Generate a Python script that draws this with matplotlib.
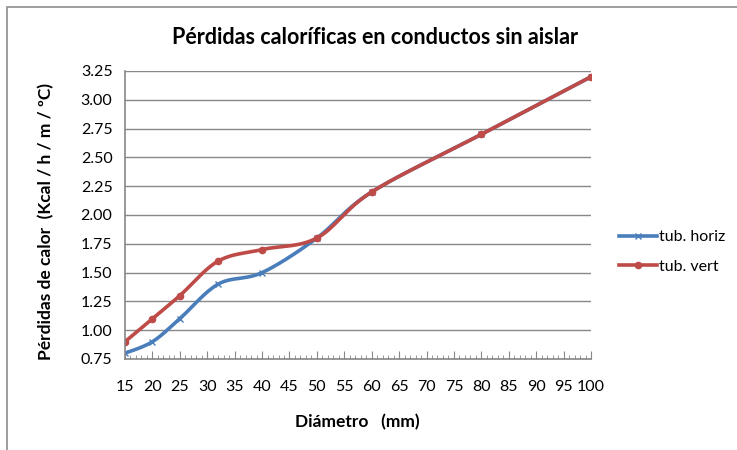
import numpy as np
import matplotlib.pyplot as plt
from matplotlib.patches import Rectangle
from matplotlib.ticker import MultipleLocator, FormatStrFormatter

diametro = [15, 20, 25, 32, 40, 50, 60, 80, 100]
tub_horiz = [0.8, 0.9, 1.1, 1.4, 1.5, 1.8, 2.2, 2.7, 3.2]
tub_vert = [0.9, 1.1, 1.3, 1.6, 1.7, 1.8, 2.2, 2.7, 3.2]

blue = "#4a7ebb"
red = "#be4b48"
font = "Lato"


def smooth(x, y, n=30):
    # Excel-style smoothed line: Catmull-Rom segments drawn as cubic Beziers
    x = np.asarray(x, float)
    y = np.asarray(y, float)
    px = np.concatenate([[x[0]], x, [x[-1]]])
    py = np.concatenate([[y[0]], y, [y[-1]]])
    xs, ys = [], []
    t = np.linspace(0, 1, n)
    for i in range(1, len(px) - 2):
        p0 = np.array([px[i], py[i]])
        p3 = np.array([px[i + 1], py[i + 1]])
        c1 = p0 + (np.array([px[i + 1], py[i + 1]]) - np.array([px[i - 1], py[i - 1]])) / 6
        c2 = p3 - (np.array([px[i + 2], py[i + 2]]) - np.array([px[i], py[i]])) / 6
        b = ((1 - t) ** 3)[:, None] * p0 + (3 * (1 - t) ** 2 * t)[:, None] * c1 \
            + (3 * (1 - t) * t ** 2)[:, None] * c2 + (t ** 3)[:, None] * p3
        xs.extend(b[:, 0])
        ys.extend(b[:, 1])
    return xs, ys


fig = plt.figure(figsize=(7.37, 4.5), dpi=100)
fig.patches.append(Rectangle((7 / 737, -0.1), 1.2, 1 - 7 / 450 + 0.1,
                             transform=fig.transFigure, fill=False,
                             edgecolor="#8c8c8c", linewidth=1.2))

ax = fig.add_axes([125 / 737, 1 - 359 / 450, 466 / 737, (359 - 71) / 450])

hx, hy = smooth(diametro, tub_horiz)
vx, vy = smooth(diametro, tub_vert)
ax.plot(hx, hy, color=blue, linewidth=2.6, solid_capstyle="round")
ax.plot(diametro, tub_horiz, linestyle="none", marker="x", color=blue, markersize=4, markeredgewidth=1)
ax.plot(vx, vy, color=red, linewidth=2.6, solid_capstyle="round")
ax.plot(diametro, tub_vert, linestyle="none", marker="o", color=red, markersize=4.5)

ax.set_xlim(15, 100)
ax.set_ylim(0.75, 3.25)
ax.xaxis.set_major_locator(MultipleLocator(5))
ax.xaxis.set_minor_locator(MultipleLocator(1))
ax.yaxis.set_major_locator(MultipleLocator(0.25))
ax.yaxis.set_major_formatter(FormatStrFormatter("%.2f"))
ax.grid(axis="y", color="#888888", linewidth=1)
ax.set_axisbelow(True)

for s in ["top", "right"]:
    ax.spines[s].set_visible(False)
for s in ["left", "bottom"]:
    ax.spines[s].set_color("#888888")
    ax.spines[s].set_linewidth(1.2)

ax.tick_params(axis="y", length=0, pad=9, labelsize=11.5, labelcolor="black")
ax.tick_params(axis="x", which="major", direction="in", length=6, color="#888888",
               pad=15, labelsize=11.5)
ax.tick_params(axis="x", which="minor", direction="in", length=3, color="#888888")
for lab in ax.get_xticklabels() + ax.get_yticklabels():
    lab.set_fontfamily(font)

fig.text(375 / 737, 1 - 38 / 450, "Pérdidas caloríficas en conductos sin aislar",
         ha="center", va="center", fontsize=15.5, fontweight="bold", family=font)
fig.text(357 / 737, 1 - 422 / 450, "Diámetro   (mm)", ha="center", va="center",
         fontsize=12.5, fontweight="bold", family=font)
fig.text(46 / 737, 1 - 222 / 450, "Pérdidas de calor  (Kcal / h / m / ºC)", ha="center",
         va="center", rotation=90, fontsize=12.5, fontweight="bold", family=font)

leg_h, = ax.plot([], [], color=blue, linewidth=2.6, marker="x", markersize=4)
leg_v, = ax.plot([], [], color=red, linewidth=2.6, marker="o", markersize=4.5)
fig.legend([leg_h, leg_v], ["tub. horiz", "tub. vert"], loc="center left",
           bbox_to_anchor=(606 / 737, 1 - 252 / 450), frameon=False,
           prop={"family": font, "size": 11.5}, handlelength=2.4, handletextpad=0.1,
           labelspacing=0.95, borderpad=0.3)

fig.savefig("out.png", dpi=100)
